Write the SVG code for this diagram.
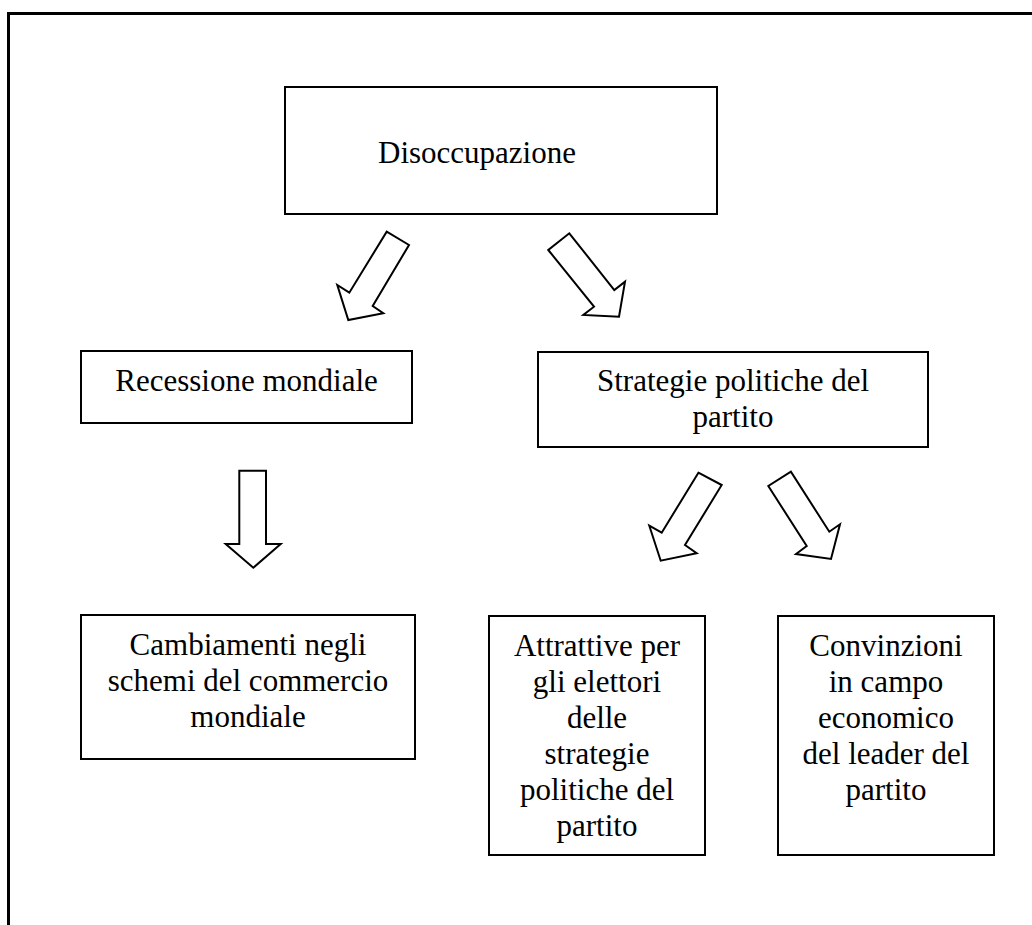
<svg xmlns="http://www.w3.org/2000/svg" width="1032" height="925" viewBox="0 0 1032 925">
<style>
.box{fill:#fff;stroke:#000;stroke-width:2}
.arr{fill:#fff;stroke:#000;stroke-width:2;stroke-linejoin:miter}
text{font-family:"Liberation Serif","Times New Roman",serif;font-size:31px;fill:#000;text-anchor:middle}
</style>
<rect width="1032" height="925" fill="#fff"/>
<path d="M8.5,925 V13.5 H1032" fill="none" stroke="#000" stroke-width="3"/>
<g id="connectors">
<polygon class="arr" points="386.7,231.7 409,245 372.7,306 383.3,313.3 348.3,320 337.3,285 349.3,292.7"/>
<polygon class="arr" points="548.3,250 594,306.7 583.3,315 619,316.7 625,281.7 614.3,290 569.3,233.3"/>
<polygon class="arr" points="239.3,470.7 266,470.7 266,544 280.7,544 253.3,567.7 225.7,544 239.3,544"/>
<polygon class="arr" points="698.4,472.7 721.7,485 685,545 696.7,553.3 660.7,560.7 649.3,525.7 661.7,532.7"/>
<polygon class="arr" points="768.3,486 806.7,546 796,554 831,559 840,524.3 829.3,531.7 790.9,471.7"/>
</g>
<g id="n1">
<rect class="box" x="285" y="87" width="432" height="127"/>
<text x="477" y="163">Disoccupazione</text>
</g>
<g id="n2">
<rect class="box" x="81" y="351" width="331" height="72"/>
<text x="246.5" y="391">Recessione mondiale</text>
</g>
<g id="n3">
<rect class="box" x="538" y="352" width="390" height="95"/>
<text x="733" y="391">Strategie politiche del</text>
<text x="733" y="427">partito</text>
</g>
<g id="n4">
<rect class="box" x="81" y="615" width="334" height="144"/>
<text x="248" y="655">Cambiamenti negli</text>
<text x="248" y="691">schemi del commercio</text>
<text x="248" y="727">mondiale</text>
</g>
<g id="n5">
<rect class="box" x="489" y="616" width="216" height="239"/>
<text x="597" y="656">Attrattive per</text>
<text x="597" y="692">gli elettori</text>
<text x="597" y="728">delle</text>
<text x="597" y="764">strategie</text>
<text x="597" y="800">politiche del</text>
<text x="597" y="836">partito</text>
</g>
<g id="n6">
<rect class="box" x="778" y="616" width="216" height="239"/>
<text x="886" y="656">Convinzioni</text>
<text x="886" y="692">in campo</text>
<text x="886" y="728">economico</text>
<text x="886" y="764">del leader del</text>
<text x="886" y="800">partito</text>
</g>
</svg>
